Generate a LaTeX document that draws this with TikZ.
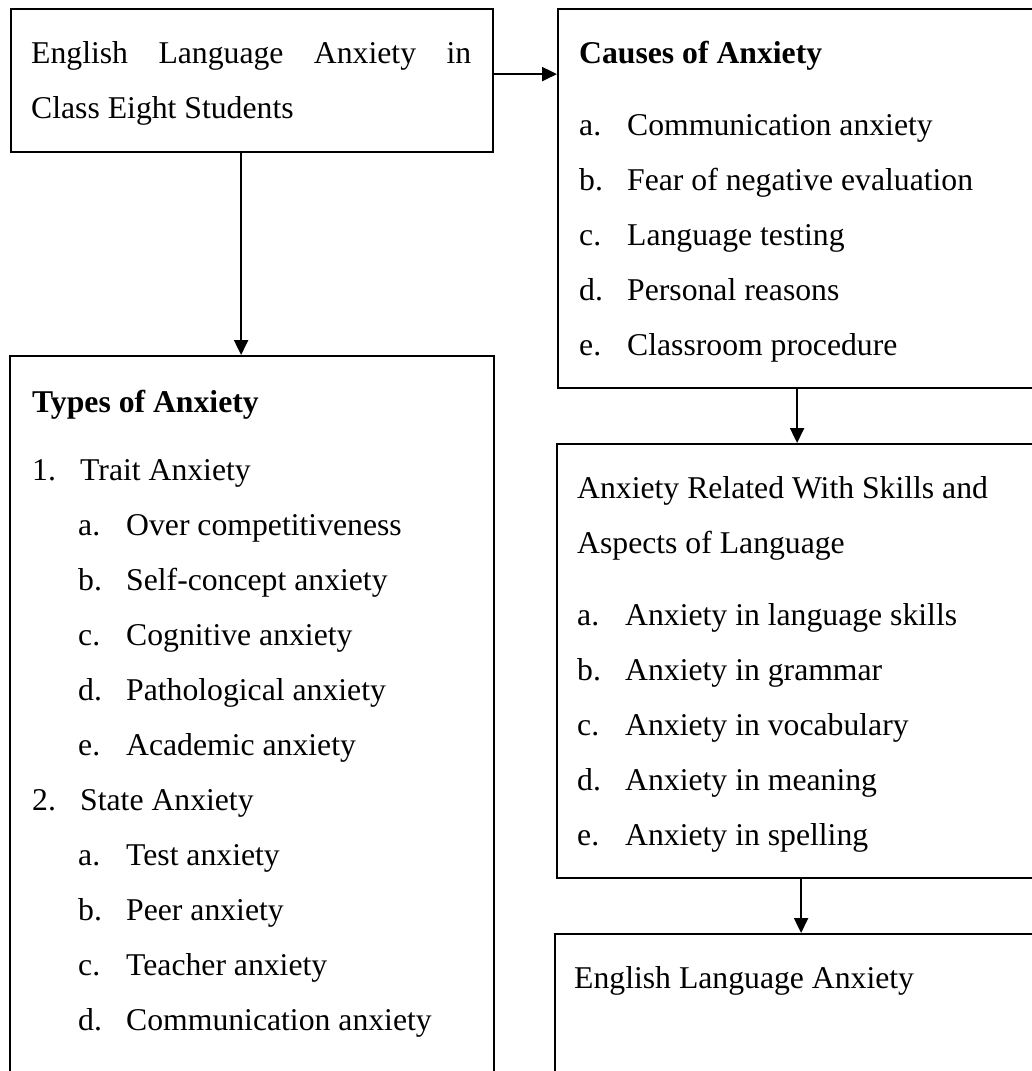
\documentclass[tikz,border=0pt]{standalone}
\usepackage{fontspec}
\setmainfont{Liberation Serif}
\usepackage{tikz}
\usetikzlibrary{arrows.meta,positioning,calc}
\newcommand{\entry}[2]{\makebox[48pt][l]{#1}#2}

\begin{document}
\begin{tikzpicture}[
  x=1pt, y=-1pt,
  every node/.style={font=\fontsize{31.7pt}{55pt}\selectfont},
  box/.style={rectangle, draw=black, line width=2.2pt, anchor=north west, inner sep=0pt},
  line/.style={anchor=base west, inner sep=0pt},
  arr/.style={line width=2.2pt, -{Triangle[length=15pt,width=14pt]}}
]
\useasboundingbox (0,0) rectangle (1032,1071);
\clip (0,0) rectangle (1032,1071);

% Main topic box
\node[box, minimum width=482pt, minimum height=143pt] (intro) at (10,8) {};
\node[line] (intro-1) at ($(intro.north west)+(21,55)$) {\makebox[440pt][s]{English Language Anxiety in}};
\node[line] (intro-2) at ($(intro.north west)+(21,110)$) {Class Eight Students};

% Causes box (right, top)
\node[box, minimum width=478pt, minimum height=379pt] (causes) at (557,8) {};
\node[line] (causes-head) at ($(causes.north west)+(22,55)$) {\textbf{Causes of Anxiety}};
\foreach \lbl/\itemtxt [count=\i from 0] in {a./Communication anxiety, b./Fear of negative evaluation,
    c./Language testing, d./Personal reasons, e./Classroom procedure}
  \node[line] (cause-\i) at ($(causes.north west)+(22,{127+55*\i})$) {\entry{\lbl}{\itemtxt}};

% Types box (left, tall)
\node[box, minimum width=484pt, minimum height=730pt] (types) at (9,355) {};
\node[line] (types-head) at ($(types.north west)+(23,57)$) {\textbf{Types of Anxiety}};
\node[line] (trait) at ($(types.north west)+(23,125)$) {\entry{1.}{Trait Anxiety}};
\foreach \lbl/\itemtxt [count=\i from 0] in {a./Over competitiveness, b./Self-concept anxiety,
    c./Cognitive anxiety, d./Pathological anxiety, e./Academic anxiety}
  \node[line] (trait-\i) at ($(types.north west)+(69,{180+55*\i})$) {\entry{\lbl}{\itemtxt}};
\node[line] (state) at ($(types.north west)+(23,455)$) {\entry{2.}{State Anxiety}};
\foreach \lbl/\itemtxt [count=\i from 0] in {a./Test anxiety, b./Peer anxiety,
    c./Teacher anxiety, d./Communication anxiety}
  \node[line] (state-\i) at ($(types.north west)+(69,{510+55*\i})$) {\entry{\lbl}{\itemtxt}};

% Skills and aspects box
\node[box, minimum width=488pt, minimum height=434pt] (skills) at (556,443) {};
\node[line] (skills-1) at ($(skills.north west)+(21,55)$) {Anxiety Related With Skills and};
\node[line] (skills-2) at ($(skills.north west)+(21,110)$) {Aspects of Language};
\foreach \lbl/\itemtxt [count=\i from 0] in {a./Anxiety in language skills, b./Anxiety in grammar,
    c./Anxiety in vocabulary, d./Anxiety in meaning, e./Anxiety in spelling}
  \node[line] (skill-\i) at ($(skills.north west)+(21,{182+55*\i})$) {\entry{\lbl}{\itemtxt}};

% Result box (bottom right)
\node[box, minimum width=492pt, minimum height=152pt] (ending) at (554,933) {};
\node[line] (ending-1) at ($(ending.north west)+(20,55)$) {English Language Anxiety};

% Arrows
\coordinate (intro-out) at ([yshift=6.5pt]intro.east);
\coordinate (intro-down) at ([xshift=-11pt]intro.south);
\draw[arr] (intro-out) -- (intro-out -| causes.west);
\draw[arr] (intro-down) -- (intro-down |- types.north);
\draw[arr] (causes.south) -- (causes.south |- skills.north);
\draw[arr] (skills.south) -- (skills.south |- ending.north);
\end{tikzpicture}
\end{document}
